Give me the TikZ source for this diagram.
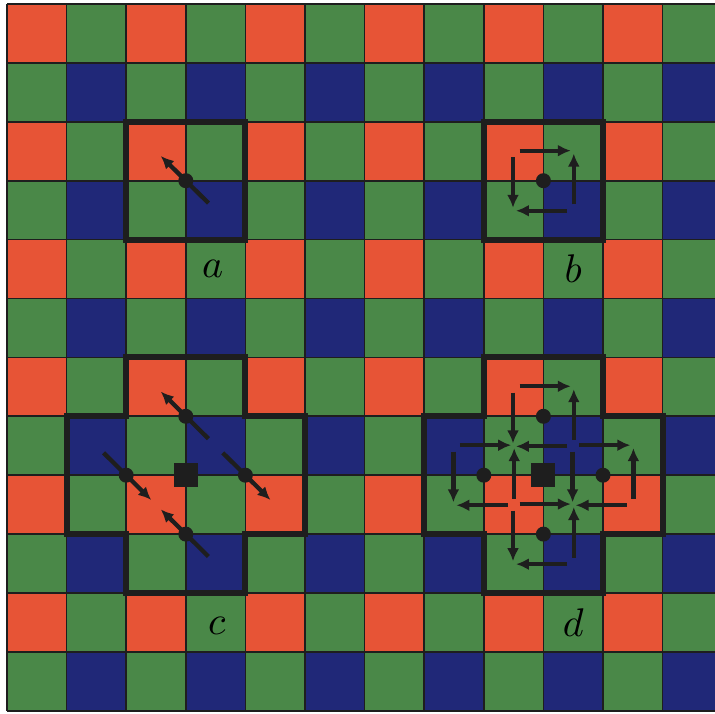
\documentclass[tikz,border=0pt]{standalone}
\usetikzlibrary{arrows.meta}
\definecolor{bred}{RGB}{231,84,54}
\definecolor{bgreen}{RGB}{74,136,72}
\definecolor{bblue}{RGB}{32,40,120}
\definecolor{ink}{RGB}{30,30,30}
\newcommand{\biglab}[1]{\scalebox{4}{\normalsize$#1$}}
\tikzset{
  cellline/.style={draw=ink, line width=1.7pt},
  outline/.style={draw=ink, line width=6pt, line join=miter},
  arr/.style={draw=ink, line width=4.3pt, -{Latex[length=13pt,width=12pt]}},
  dotm/.style={circle, fill=ink, inner sep=0pt, minimum size=15pt},
  sqm/.style={rectangle, fill=ink, inner sep=0pt, minimum size=24pt},
  lab/.style={inner sep=0pt},
  pinwheel/.pic={
    \draw[arr] (-0.4,-0.51) -- (0.46,-0.51);
    \draw[arr] (0.51,0.4) -- (0.51,-0.46);
    \draw[arr] (0.4,0.51) -- (-0.46,0.51);
    \draw[arr] (-0.51,-0.4) -- (-0.51,0.46);
  }
}
\begin{document}
\begin{tikzpicture}[x=1pt,y=-1pt]
\fill[white] (0,0) rectangle (715,713);
\useasboundingbox (0,0) rectangle (715,713);
\clip (0,0) rectangle (715,713);
\begin{scope}[shift={(7pt,-4pt)}, x=59.6pt, y=-58.9pt]
  % cells
  \foreach \i in {0,...,11}{
    \foreach \j in {0,...,11}{
      \pgfmathtruncatemacro\ri{mod(\i,2)}
      \pgfmathtruncatemacro\rj{mod(\j,2)}
      \ifnum\ri=0
        \ifnum\rj=0 \def\cc{bred}\else\def\cc{bgreen}\fi
      \else
        \ifnum\rj=1 \def\cc{bblue}\else\def\cc{bgreen}\fi
      \fi
      \fill[\cc] (\i,\j) rectangle ++(1,1);
    }
  }
  \foreach \k in {0,...,12}{
    \draw[cellline] (\k,0) -- (\k,12);
    \draw[cellline] (0,\k) -- (12,\k);
  }
  % outlines
  \draw[outline] (2,2) rectangle (4,4);
  \draw[outline] (8,2) rectangle (10,4);
  \foreach \cx/\cy in {3/8, 9/8}{
    \draw[outline] (\cx-1,\cy-2) -- (\cx+1,\cy-2) -- (\cx+1,\cy-1) -- (\cx+2,\cy-1)
      -- (\cx+2,\cy+1) -- (\cx+1,\cy+1) -- (\cx+1,\cy+2) -- (\cx-1,\cy+2)
      -- (\cx-1,\cy+1) -- (\cx-2,\cy+1) -- (\cx-2,\cy-1) -- (\cx-1,\cy-1) -- cycle;
  }
  % a
  \coordinate (pa) at (3,3);
  \draw[arr] ([shift={(0.38,0.38)}]pa) -- ([shift={(-0.42,-0.42)}]pa);
  \node[dotm] (da) at (pa) {};
  % b
  \coordinate (pb) at (9,3);
  \pic at (pb) {pinwheel};
  \node[dotm] (db) at (pb) {};
  % c
  \foreach \n/\px/\py/\s in {ct/3/7/1, cl/2/8/-1, cr/4/8/-1, cb/3/9/1}{
    \coordinate (\n) at (\px,\py);
    \draw[arr] ([shift={(0.38*\s,0.38*\s)}]\n) -- ([shift={(-0.42*\s,-0.42*\s)}]\n);
    \node[dotm] (d\n) at (\n) {};
  }
  \node[sqm] (sc) at (3,8) {};
  % d
  \foreach \n/\px/\py in {dt/9/7, dl/8/8, dr/10/8, dbm/9/9}{
    \coordinate (\n) at (\px,\py);
    \pic at (\n) {pinwheel};
    \node[dotm] (d\n) at (\n) {};
  }
  \node[sqm] (sd) at (9,8) {};
  % labels
  \node[lab] (la) at (3.45,4.5) {\biglab{a}};
  \node[lab] (lb) at (9.5,4.5) {\biglab{b}};
  \node[lab] (lc) at (3.52,10.55) {\biglab{c}};
  \node[lab] (ld) at (9.5,10.5) {\biglab{d}};
\end{scope}
\end{tikzpicture}
\end{document}
